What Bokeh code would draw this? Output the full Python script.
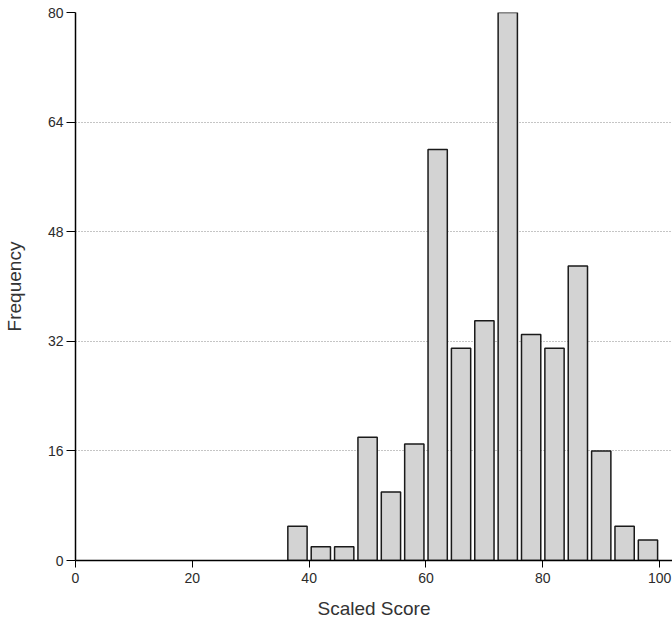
from bokeh.plotting import figure
from bokeh.models import Range1d, FixedTicker
from bokeh.embed import file_html
from bokeh.resources import INLINE

# Data
bin_centers = [38, 42, 46, 50, 54, 58, 62, 66, 70, 74, 78, 82, 86, 90, 94, 98]
frequencies = [5, 2, 2, 18, 10, 17, 60, 31, 35, 80, 33, 31, 43, 16, 5, 3]
x_ticks = [0, 20, 40, 60, 80, 100]
y_ticks = [0, 16, 32, 48, 64, 80]

p = figure(width=672, height=622, output_backend="svg", toolbar_location=None,
           x_range=Range1d(0, 102.2), y_range=Range1d(0, 80),
           min_border_left=75, min_border_right=0, min_border_top=12, min_border_bottom=62)
p.outline_line_color = None
p.background_fill_color = "white"
p.border_fill_color = "white"

p.vbar(x=bin_centers, top=frequencies, width=3.3, bottom=0,
       fill_color="#d3d3d3", line_color="#1a1a1a", line_width=1.5)

p.xgrid.grid_line_color = None
p.ygrid.grid_line_color = "#8a8a8a"
p.ygrid.grid_line_dash = "1 2"
p.ygrid.grid_line_width = 1
p.ygrid.ticker = FixedTicker(ticks=y_ticks)

p.xaxis.ticker = FixedTicker(ticks=x_ticks)
p.yaxis.ticker = FixedTicker(ticks=y_ticks)

for ax in (p.xaxis[0], p.yaxis[0]):
    ax.axis_line_color = "black"
    ax.axis_line_width = 1.5
    ax.major_tick_line_color = "black"
    ax.major_tick_line_width = 1
    ax.major_tick_in = 0
    ax.minor_tick_line_color = None
    ax.major_label_text_font = "Liberation Sans"
    ax.major_label_text_font_size = "14px"
    ax.major_label_text_color = "#2b2b2b"
    ax.axis_label_text_font = "Liberation Sans"
    ax.axis_label_text_font_size = "19px"
    ax.axis_label_text_font_style = "normal"
    ax.axis_label_text_color = "#333333"

p.xaxis.major_tick_out = 7
p.yaxis.major_tick_out = 9
p.xaxis.major_label_standoff = 5
p.yaxis.major_label_standoff = 3
p.xaxis.axis_label = "Scaled Score"
p.yaxis.axis_label = "Frequency"
p.xaxis.axis_label_standoff = 12
p.yaxis.axis_label_standoff = 20

open("out.html", "w").write(file_html(p, INLINE))
